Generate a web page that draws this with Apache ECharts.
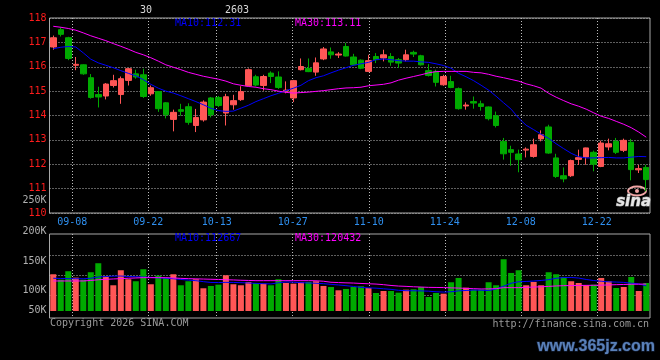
<!DOCTYPE html>
<html><head><meta charset="utf-8">
<script src="https://cdn.jsdelivr.net/npm/echarts@6/dist/echarts.min.js"></script>
<style>html,body{margin:0;padding:0;background:#000}#c{width:660px;height:360px}</style>
</head><body><div id="c"></div><script>
const dates = ['09-03','09-04','09-05','09-08','09-09','09-10','09-11','09-12','09-15','09-16',
 '09-17','09-18','09-19','09-22','09-23','09-24','09-25','09-26','09-29','09-30',
 '10-09','10-10','10-13','10-14','10-15','10-16','10-17','10-20','10-21','10-22',
 '10-23','10-24','10-27','10-28','10-29','10-30','10-31','11-03','11-04','11-05',
 '11-06','11-07','11-10','11-11','11-12','11-13','11-14','11-17','11-18','11-19',
 '11-20','11-21','11-24','11-25','11-26','11-27','11-28','12-01','12-02','12-03',
 '12-04','12-05','12-08','12-09','12-10','12-11','12-12','12-15','12-16','12-17',
 '12-18','12-19','12-22','12-23','12-24','12-25','12-26','12-29','12-30','12-31'];
const tickDates = ['09-08','09-22','10-13','10-27','11-10','11-24','12-08','12-22'];

const priceOpen = [116.81,117.52,117.19,116.06,116.08,115.55,114.86,114.80,115.23,114.86,
 115.44,115.71,115.67,114.89,114.98,114.52,113.84,114.24,114.36,113.59,
 113.82,114.72,114.74,114.10,114.44,114.65,115.22,115.59,115.23,115.74,
 115.58,115.00,114.72,115.88,115.93,115.78,116.32,116.61,116.48,116.83,
 116.40,116.27,115.81,116.42,116.36,116.42,116.29,116.29,116.59,116.45,
 115.84,115.81,115.26,115.39,115.10,114.39,114.57,114.48,114.35,113.99,
 112.93,112.60,112.42,112.58,112.32,113.04,113.53,112.26,111.53,111.53,
 112.20,112.30,112.49,111.91,112.71,112.94,112.57,112.90,111.77,111.87];
const priceClose = [117.19,117.33,116.34,116.10,115.71,114.74,114.76,115.29,115.43,115.51,
 115.92,115.58,114.78,115.14,114.28,114.03,114.13,114.17,113.72,113.92,
 114.55,114.03,114.41,114.77,114.61,114.98,115.88,115.25,115.60,115.60,
 115.15,115.04,115.43,116.01,115.80,116.16,116.73,116.49,116.52,116.44,
 116.08,115.94,116.25,116.29,116.49,116.19,116.15,116.49,116.52,116.08,
 115.64,115.36,115.60,115.15,114.28,114.43,114.51,114.37,113.87,113.59,
 112.43,112.49,112.19,112.62,112.80,113.21,112.46,111.50,111.40,112.15,
 112.27,112.67,112.00,112.87,112.84,112.49,112.98,111.78,111.82,111.37];
const priceHigh = [117.28,117.62,117.23,116.40,116.10,115.70,115.18,115.33,115.67,115.60,
 115.95,115.88,115.92,115.23,115.00,114.55,114.24,114.48,114.50,114.27,
 114.62,114.76,114.80,114.89,114.85,115.20,115.93,115.67,115.67,115.81,
 115.81,115.40,115.46,116.34,116.34,116.38,116.81,116.79,116.60,116.98,
 116.53,116.30,116.49,116.56,116.70,116.56,116.36,116.70,116.66,116.49,
 116.11,115.88,115.67,115.63,115.15,114.54,114.78,114.61,114.37,114.16,
 113.08,112.76,112.60,112.69,113.05,113.39,113.62,112.43,111.87,112.19,
 112.60,112.68,112.56,112.97,113.05,113.08,113.05,113.04,111.97,111.98];
const priceLow = [116.70,117.24,116.27,115.86,115.67,114.69,114.33,114.66,115.15,114.48,
 115.23,115.51,114.72,114.81,114.15,113.88,113.35,113.99,113.62,113.32,
 113.75,113.92,114.35,113.59,114.24,114.60,115.20,115.20,115.02,115.33,
 115.09,114.91,114.55,115.85,115.78,115.63,116.27,116.33,116.36,116.42,
 116.05,115.90,115.78,116.15,116.22,116.04,115.95,116.22,116.40,116.05,
 115.60,115.19,115.22,115.12,114.24,114.24,114.28,114.20,113.80,113.51,
 112.19,111.94,111.67,112.28,112.27,112.94,112.43,111.44,111.26,111.48,
 111.97,111.98,111.71,111.88,112.57,112.42,112.50,111.34,111.64,110.89];

const ma10 = [116.74,116.80,116.83,116.81,116.57,116.31,116.16,116.06,115.96,115.84,
 115.73,115.63,115.47,115.28,115.12,115.00,114.92,114.81,114.69,114.57,
 114.44,114.30,114.20,114.17,114.18,114.30,114.42,114.57,114.69,114.81,
 114.91,115.02,115.12,115.24,115.43,115.55,115.63,115.75,115.86,115.96,
 116.06,116.12,116.18,116.29,116.32,116.29,116.25,116.23,116.23,116.20,
 116.18,116.12,116.05,115.94,115.73,115.59,115.43,115.24,115.04,114.79,
 114.52,114.26,113.89,113.60,113.42,113.23,113.06,112.84,112.64,112.45,
 112.31,112.26,112.26,112.27,112.28,112.26,112.26,112.29,112.32,112.31];
const ma30 = [117.66,117.62,117.57,117.50,117.39,117.27,117.17,117.07,116.95,116.84,
 116.72,116.59,116.49,116.37,116.23,116.08,115.98,115.88,115.77,115.69,
 115.61,115.55,115.49,115.41,115.30,115.24,115.19,115.16,115.10,115.06,
 115.00,114.95,114.92,114.94,114.96,114.99,115.02,115.06,115.10,115.13,
 115.14,115.16,115.22,115.25,115.28,115.34,115.45,115.53,115.60,115.67,
 115.75,115.80,115.81,115.81,115.81,115.81,115.77,115.75,115.69,115.61,
 115.55,115.48,115.41,115.30,115.22,115.12,114.91,114.75,114.61,114.48,
 114.38,114.26,114.11,113.97,113.88,113.76,113.64,113.50,113.32,113.11];

const volume = [164400,140200,177900,149200,140200,173400,213700,155500,115100,182300,
 142000,133100,186800,119600,158100,147800,164400,115100,133100,142000,
 101700,112000,117800,159900,119600,115100,129900,125400,122300,115100,
 142000,125400,122300,128600,129900,133100,112000,107500,92700,98600,
 107500,110700,103000,80600,89600,89600,82000,95400,97200,107500,
 62700,80600,77500,128600,147800,104400,95400,95400,128600,115100,
 231600,170200,182300,115100,129900,115100,173400,164400,152300,133100,
 125400,115100,117800,147800,133100,103000,107500,152300,89600,125400];
const volMa10 = [146500,145600,144700,144300,144300,146500,152300,154100,155900,156400,
 154600,153200,151900,150100,148300,146500,144300,141100,138400,135700,
 131300,127700,127200,128100,127700,126800,125400,123600,122300,121000,
 126300,129900,128600,126800,125400,124100,122300,119200,116500,113300,
 109800,105700,103500,102100,99500,96800,92700,90900,90500,90000,
 88700,86000,84700,86000,90000,91800,93600,93200,91400,98600,
 111100,124100,130800,132200,134000,136600,140200,146500,149600,150100,
 147400,141100,136200,133100,130400,129500,128100,124500,121000,112667];
const volMa30 = [134400,134400,134400,134400,134400,136600,139800,141600,143400,144700,
 146500,147800,149200,149200,149200,149200,147800,146000,144700,143800,
 142900,142000,141100,139800,138900,137500,136600,135700,135700,135700,
 135700,135700,135700,135700,135700,135300,133100,128600,127200,125900,
 125000,123200,121900,120500,117800,114200,111600,110200,108400,107100,
 105700,105300,104800,103500,102600,101200,99900,98600,99000,99900,
 104400,104400,104400,105700,107100,108400,110200,112000,113300,113800,
 114200,114700,115100,115600,116500,117800,118700,119600,120100,120432];

const priceMin = 110, priceMax = 118;
const volTickLabels = ['200K','150K','100K','50K'];
const strayLabel = '250K';
const headerTexts = ['30','2603'];
const priceMaTexts = ['MA10:112.31','MA30:113.11'];
const volMaTexts = ['MA10:112667','MA30:120432'];
const copyrightText = 'Copyright 2026 SINA.COM';
const urlText = 'http://finance.sina.com.cn';
const watermarkText = 'www.365jz.com';

const UP = '#ff5656', DOWN = '#00aa00';
const BLUE = '#0000ff', MAG = '#ff00ff';
const GRIDC = '#bdbdbd', FRAME = '#a8a8a8';
const FONT = "10px 'DejaVu Sans Mono', monospace";

const candleData = dates.map((d, i) => [priceOpen[i], priceClose[i], priceLow[i], priceHigh[i]]);
const volData = volume.map((v, i) => ({value: v, itemStyle: {color: priceClose[i] >= priceOpen[i] ? UP : DOWN}}));
const isTick = (idx, val) => tickDates.indexOf(val) >= 0;

const L = 49.5, R = 10;
const dotted = {color: GRIDC, width: 1, type: [1, 2]};

const volLabelY = [231, 261, 290, 310];
const graphic = [];
headerTexts.forEach((t, k) => graphic.push({type: 'text', x: [140, 225][k], y: 10,
  style: {text: t, fill: '#d8d8d8', font: FONT, verticalAlign: 'middle'}}));
priceMaTexts.forEach((t, k) => graphic.push({type: 'text', x: [175, 295][k], y: 23.5,
  style: {text: t, fill: [BLUE, MAG][k], font: FONT, verticalAlign: 'middle'}}));
volMaTexts.forEach((t, k) => graphic.push({type: 'text', x: [175, 295][k], y: 238.5,
  style: {text: t, fill: [BLUE, MAG][k], font: FONT, verticalAlign: 'middle'}}));
volTickLabels.forEach((t, k) => graphic.push({type: 'text', x: 46.5, y: volLabelY[k],
  style: {text: t, fill: '#b0b0b0', font: FONT, align: 'right', verticalAlign: 'middle'}}));
graphic.push({type: 'text', x: 46.5, y: 200, style: {text: strayLabel, fill: '#b0b0b0', font: FONT, align: 'right', verticalAlign: 'middle'}});
graphic.push({type: 'text', x: 50, y: 323.5, style: {text: copyrightText, fill: '#9a9a9a', font: FONT, verticalAlign: 'middle'}});
graphic.push({type: 'text', x: 649, y: 324, style: {text: urlText, fill: '#9a9a9a', font: FONT, align: 'right', verticalAlign: 'middle'}});
graphic.push({type: 'text', x: 655, y: 347, style: {text: watermarkText, fill: '#5a80b8', stroke: '#1a2a48', lineWidth: 1.2,
  font: "bold 16px 'Liberation Sans', Arial, sans-serif", align: 'right', verticalAlign: 'middle'}});
graphic.push({type: 'ellipse', shape: {cx: 637, cy: 191, rx: 9, ry: 4.5}, style: {fill: 'none', stroke: '#f2a6a6', lineWidth: 2}});
graphic.push({type: 'circle', shape: {cx: 637, cy: 191, r: 2}, style: {fill: '#f2a6a6'}});
graphic.push({type: 'text', x: 651, y: 202, style: {text: 'sina', fill: '#e6e6e6', stroke: '#8a8a8a', lineWidth: 1,
  font: "italic bold 15px 'DejaVu Sans', sans-serif", align: 'right', verticalAlign: 'middle'}});

const option = {
  backgroundColor: '#000',
  animation: false,
  grid: [
    {left: L, right: R, top: 18, height: 195, show: true, borderColor: FRAME, borderWidth: 1, backgroundColor: 'transparent'},
    {left: L, right: R, top: 234, height: 84, show: true, borderColor: FRAME, borderWidth: 1, backgroundColor: 'transparent'},
    {left: L, right: R, top: 235, height: 76},
    {left: L, right: R, top: 255, height: 40}
  ],
  xAxis: [
    {type: 'category', gridIndex: 0, data: dates, boundaryGap: true, show: false},
    {type: 'category', gridIndex: 0, data: dates, boundaryGap: false, position: 'bottom',
      axisLine: {show: false}, axisTick: {show: false},
      axisLabel: {interval: isTick, color: '#2f8fee', font: FONT, fontFamily: 'DejaVu Sans Mono', fontSize: 10, margin: 4},
      splitLine: {show: true, interval: isTick, lineStyle: dotted}},
    {type: 'category', gridIndex: 1, data: dates, boundaryGap: false,
      axisLine: {show: false}, axisTick: {show: false}, axisLabel: {show: false},
      splitLine: {show: true, interval: isTick, lineStyle: dotted}},
    {type: 'category', gridIndex: 2, data: dates, boundaryGap: true, show: false},
    {type: 'category', gridIndex: 3, data: dates, boundaryGap: true, show: false}
  ],
  yAxis: [
    {type: 'value', gridIndex: 0, min: priceMin, max: priceMax, interval: 1,
      axisLine: {show: false}, axisTick: {show: false},
      axisLabel: {color: '#ff1c1c', fontFamily: 'DejaVu Sans Mono', fontSize: 10, margin: 3},
      splitLine: {show: true, lineStyle: dotted}},
    {type: 'value', gridIndex: 1, show: false, splitLine: {show: false}},
    {type: 'value', gridIndex: 2, min: 0, max: 340000, show: false, splitLine: {show: false}},
    {type: 'value', gridIndex: 3, min: 0, max: 2, interval: 1, axisLine: {show: false}, axisTick: {show: false},
      axisLabel: {show: false}, splitLine: {show: true, lineStyle: dotted}}
  ],
  series: [
    {type: 'candlestick', xAxisIndex: 0, yAxisIndex: 0, data: candleData, barWidth: 6,
      itemStyle: {color: UP, color0: DOWN, borderColor: UP, borderColor0: DOWN, borderWidth: 1}},
    {type: 'line', xAxisIndex: 0, yAxisIndex: 0, data: ma10, showSymbol: false, lineStyle: {color: BLUE, width: 1}, z: 3},
    {type: 'line', xAxisIndex: 0, yAxisIndex: 0, data: ma30, showSymbol: false, lineStyle: {color: MAG, width: 1}, z: 3},
    {type: 'bar', xAxisIndex: 3, yAxisIndex: 2, data: volData, barWidth: 6},
    {type: 'line', xAxisIndex: 3, yAxisIndex: 2, data: volMa10, showSymbol: false, lineStyle: {color: BLUE, width: 1}, z: 3},
    {type: 'line', xAxisIndex: 3, yAxisIndex: 2, data: volMa30, showSymbol: false, lineStyle: {color: MAG, width: 1}, z: 3}
  ],
  graphic: graphic
};
const chart = echarts.init(document.getElementById('c'), null, {renderer: 'canvas'});
chart.setOption(option);
</script></body></html>
